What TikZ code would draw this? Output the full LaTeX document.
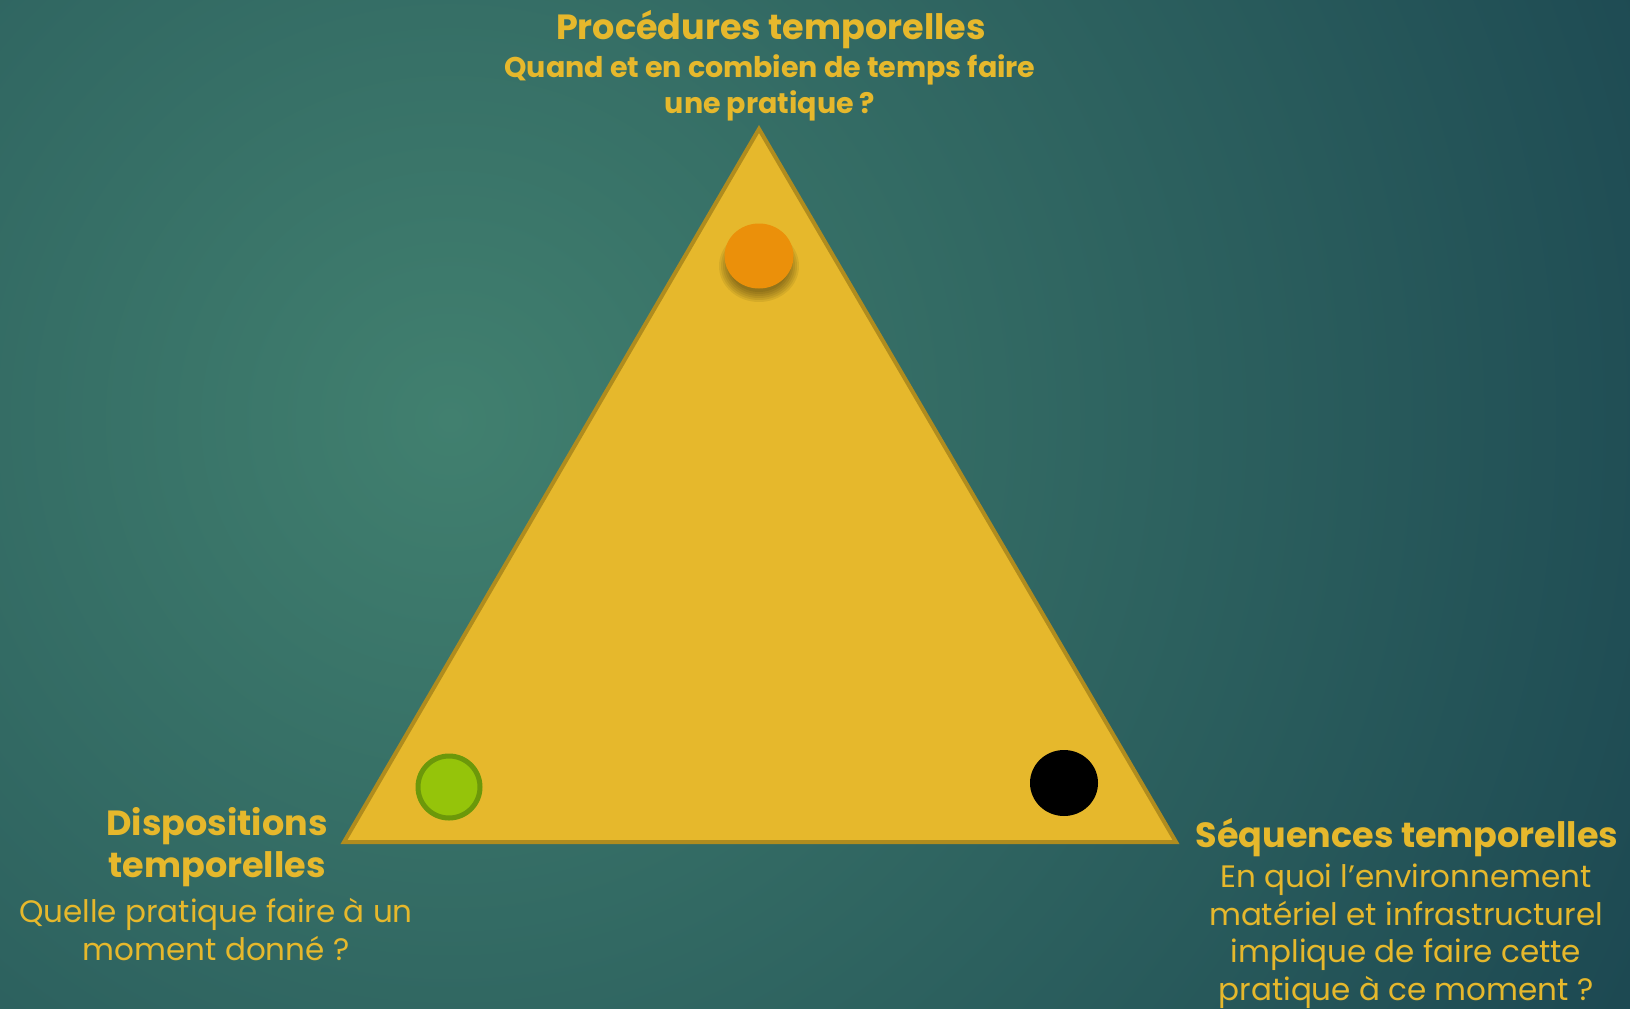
\documentclass[tikz,border=0pt]{standalone}
\usepackage{fontspec}
\setmainfont{Poppins}
\usetikzlibrary{shapes.geometric}
\definecolor{tealdark}{HTML}{19434F}
\definecolor{teallight}{HTML}{41806F}
\definecolor{gold}{HTML}{E6B82C}
\definecolor{goldedge}{HTML}{B08C1E}
\definecolor{orangedot}{HTML}{EB900A}
\definecolor{greendot}{HTML}{95C40A}
\definecolor{greenedge}{HTML}{6C980A}
\begin{document}
\begin{tikzpicture}[x=1pt,y=-1pt]
  \tikzstyle{dot}=[ellipse,minimum width=69pt,minimum height=65pt,inner sep=0pt]
  \tikzstyle{head}=[text=gold,font=\bfseries\fontsize{35}{42}\selectfont,align=center,anchor=base,inner sep=0pt]
  \tikzstyle{question}=[text=gold,font=\fontsize{31}{37.5}\selectfont,align=center,anchor=base,inner sep=0pt]
  % background
  \fill[tealdark] (0,0) rectangle (1630,1009);
  \begin{scope}
    \clip (0,0) rectangle (1630,1009);
    \shade[inner color=teallight,outer color=tealdark] (450,420) circle (1450pt);
  \end{scope}
  \useasboundingbox (0,0) rectangle (1630,1009);
  % triangle
  \coordinate (apex) at (759,129);
  \coordinate (left) at (344,842);
  \coordinate (right) at (1176,842);
  \filldraw[fill=gold,draw=goldedge,line width=4pt] (apex) -- (left) -- (right) -- cycle;
  % dots
  \foreach \r in {40,38,...,30}
    \fill[black,opacity=0.07] (759,266) ellipse ({\r pt} and {(\r-4)*1pt});
  \node[dot,fill=orangedot] (proc) at (759,256) {};
  \node[dot,fill=greendot,draw=greenedge,line width=5pt,minimum width=62pt,minimum height=62pt] (disp) at (449,787) {};
  \node[dot,fill=black,minimum width=68pt,minimum height=66pt] (seq) at (1064,783) {};
  % labels (anchor base = last line)
  \node[head] (proctitle) at (771,39) {Procédures temporelles};
  \node[head,font=\bfseries\fontsize{28.5}{36}\selectfont] (procq) at (770,113) {Quand et en combien de temps faire\\une pratique ?};
  \node[head] (disptitle) at (217,877) {Dispositions\\temporelles};
  \node[question] (dispq) at (216,960) {Quelle pratique faire à un\\moment donné ?};
  \node[head] (seqtitle) at (1407,847) {Séquences temporelles};
  \node[question] (seqq) at (1406,1000) {En quoi l’environnement\\matériel et infrastructurel\\implique de faire cette\\pratique à ce moment ?};
\end{tikzpicture}
\end{document}
